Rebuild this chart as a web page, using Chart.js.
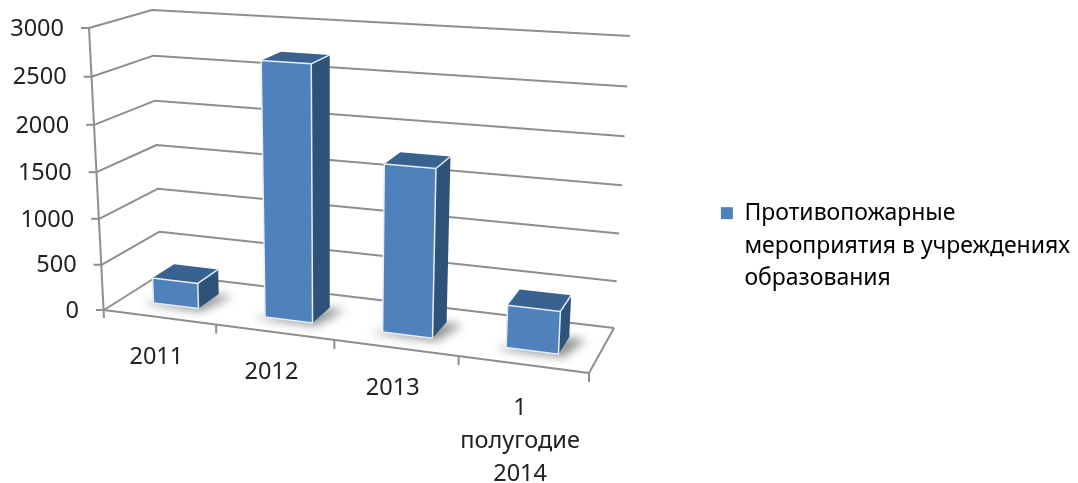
<!DOCTYPE html>
<html lang="ru">
<head>
<meta charset="utf-8">
<title>Противопожарные мероприятия</title>
<script src="https://cdn.jsdelivr.net/npm/chart.js@4/dist/chart.umd.min.js"></script>
<style>
  html, body { margin: 0; background: #fff; }
  canvas { display: block; filter: blur(0.6px); }
</style>
</head>
<body>
<canvas id="chart" width="1078" height="483"></canvas>
<script>
// данные
const categories = ['2011', '2012', '2013', ['1', 'полугодие', '2014']];
const fireValues = [280, 2710, 1755, 440];
const yTicks = [0, 500, 1000, 1500, 2000, 2500, 3000];
const legendLines = ['Противопожарные', 'мероприятия в учреждениях', 'образования'];

const FONT = '"Noto Sans", sans-serif';
const TEXT_COLOR = '#222';
const LINE_COLOR = '#8e8e8e';

// углы коробки на экране: front/back, низ/верх, лево/право
const box = {
  fbl: [104, 310], fbr: [589, 373], ftl: [89, 28], ftr: [605, 61],
  bbl: [161, 274], bbr: [614, 328], btl: [152, 10], btr: [630, 36]
};

function lerp(a, b, t) {
  return [a[0] + (b[0] - a[0]) * t, a[1] + (b[1] - a[1]) * t];
}

// u - вдоль оси категорий, v - высота, d - глубина (всё 0..1)
function project(u, v, d) {
  const w = u - 0.1 * u * (1 - u);
  const h = v - 0.045 * v * (1 - v);
  const front = lerp(lerp(box.fbl, box.fbr, w), lerp(box.ftl, box.ftr, w), h);
  const back = lerp(lerp(box.bbl, box.bbr, w), lerp(box.btl, box.btr, w), h);
  return lerp(front, back, d);
}

function poly(ctx, pts) {
  ctx.beginPath();
  pts.forEach((p, i) => i ? ctx.lineTo(p[0], p[1]) : ctx.moveTo(p[0], p[1]));
  ctx.closePath();
}

function stroke(ctx, pts) {
  ctx.beginPath();
  pts.forEach((p, i) => i ? ctx.lineTo(p[0], p[1]) : ctx.moveTo(p[0], p[1]));
  ctx.stroke();
}

const box3d = {
  id: 'box3d',
  // легенду двигаем к месту из оригинала
  afterLayout(chart) {
    const legend = chart.legend;
    const dx = 1078 + 2 - legend.right;
    legend.left += dx;
    legend.right += dx;
    legend.top += 81;
    legend.bottom += 81;
  },
  // стены, пол и подписи осей
  beforeDatasetsDraw(chart) {
    const ctx = chart.ctx;
    const area = chart.chartArea;
    const yScale = chart.scales.y;
    const xScale = chart.scales.x;
    const toU = px => (px - area.left) / (area.right - area.left);
    const toV = px => (area.bottom - px) / (area.bottom - area.top);

    ctx.save();
    ctx.strokeStyle = LINE_COLOR;
    ctx.lineWidth = 2;
    ctx.lineJoin = 'round';

    yTicks.forEach(t => {
      const v = toV(yScale.getPixelForValue(t));
      const a = project(0, v, 0);
      stroke(ctx, [a, project(0, v, 1), project(1, v, 1)]);
      stroke(ctx, [[a[0] - 8, a[1]], a]);
    });

    // ось значений и передний край пола
    stroke(ctx, [project(0, 1, 0), [box.fbl[0], box.fbl[1] + 8]]);
    stroke(ctx, [project(0, 0, 0), project(1, 0, 0), project(1, 0, 1)]);
    for (let i = 1; i <= categories.length; i++) {
      const p = project(i / categories.length, 0, 0);
      stroke(ctx, [p, [p[0], p[1] + 9]]);
    }

    // подписи
    ctx.fillStyle = TEXT_COLOR;
    ctx.font = '23.5px ' + FONT;
    ctx.textAlign = 'right';
    ctx.textBaseline = 'middle';
    yTicks.forEach(t => {
      const p = project(0, toV(yScale.getPixelForValue(t)), 0);
      ctx.fillText(String(t), p[0] - 25, p[1] + 1);
    });
    ctx.textAlign = 'center';
    categories.forEach((label, i) => {
      const p = project(toU(xScale.getPixelForValue(i)), 0, 0);
      const drop = Array.isArray(label) ? 44 : 40;
      [].concat(label).forEach((line, n) => {
        ctx.fillText(line, p[0] - 3, p[1] + drop + n * 33);
      });
    });

    // столбцы
    const depth0 = 0.31;
    const depth1 = 0.7;
    chart.getDatasetMeta(0).data.forEach(bar => {
      const u0 = toU(bar.x - bar.width / 2);
      const u1 = toU(bar.x + bar.width / 2);
      const v = toV(bar.y);

      // тень на полу
      ctx.save();
      ctx.filter = 'blur(5px)';
      ctx.fillStyle = 'rgba(60,60,60,0.55)';
      poly(ctx, [project(u0 - 0.02, 0, depth0 - 0.05), project(u1 + 0.012, 0, depth0 - 0.05),
        project(u1 + 0.035, 0, depth1 - 0.02), project(u1, 0, depth1 - 0.02)]);
      ctx.fill();
      ctx.restore();

      const fb0 = project(u0, 0, depth0), fb1 = project(u1, 0, depth0);
      const ft0 = project(u0, v, depth0), ft1 = project(u1, v, depth0);
      const bb1 = project(u1, 0, depth1);
      const bt0 = project(u0, v, depth1), bt1 = project(u1, v, depth1);

      ctx.fillStyle = '#2f5279';
      poly(ctx, [fb1, bb1, bt1, ft1]);
      ctx.fill();
      ctx.fillStyle = '#3a6291';
      poly(ctx, [ft0, ft1, bt1, bt0]);
      ctx.fill();
      ctx.fillStyle = '#4f81bd';
      poly(ctx, [fb0, fb1, ft1, ft0]);
      ctx.fill();

      // светлая фаска
      ctx.strokeStyle = '#e6edf5';
      ctx.lineWidth = 1.5;
      stroke(ctx, [fb1, fb0, ft0, ft1, fb1]);
      stroke(ctx, [ft1, bt1]);
    });
    ctx.restore();
    return false;
  }
};

new Chart(document.getElementById('chart'), {
  type: 'bar',
  data: {
    labels: categories,
    datasets: [{
      label: legendLines.join(' '),
      data: fireValues,
      backgroundColor: '#4f81bd',
      categoryPercentage: 1,
      barPercentage: 0.41
    }]
  },
  plugins: [box3d],
  options: {
    responsive: false,
    animation: false,
    layout: { padding: { left: 104, top: 30, bottom: 173, right: 2 } },
    scales: {
      x: { display: false },
      y: {
        display: false,
        min: 0,
        max: 3000,
        afterBuildTicks(scale) {
          scale.ticks = yTicks.map(value => ({ value }));
        }
      }
    },
    plugins: {
      tooltip: { enabled: false },
      legend: {
        position: 'right',
        labels: {
          color: TEXT_COLOR,
          boxWidth: 12,
          boxHeight: 12,
          padding: 8,
          font: { family: FONT, size: 23, lineHeight: 1.43 },
          generateLabels() {
            return [{ text: legendLines, fillStyle: '#4f81bd', strokeStyle: '#4f81bd', lineWidth: 0, datasetIndex: 0 }];
          }
        }
      }
    }
  }
});
</script>
</body>
</html>
